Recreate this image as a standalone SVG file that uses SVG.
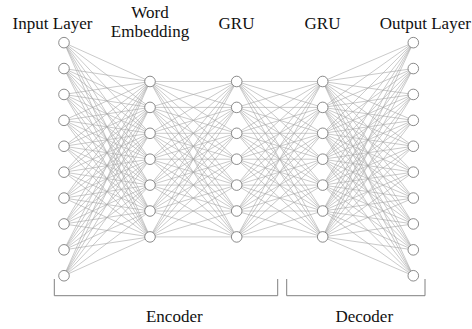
<svg xmlns="http://www.w3.org/2000/svg" width="472" height="329" viewBox="0 0 472 329">
<style>
text{font-family:'Liberation Serif','Times New Roman','DejaVu Serif',serif;font-size:17px;fill:#111;text-anchor:middle}
.e{fill:none;stroke:#a6a6a6;stroke-width:0.6}
.n circle{fill:#fff;stroke:#6e6e6e;stroke-width:0.8}
.br{fill:none;stroke:#808080;stroke-width:1}
</style>
<rect width="472" height="329" fill="#fff"/>
<g id="connectors">
<path class="e" d="M64 42.65L150 81.5M64 42.65L150 107.4M64 42.65L150 133.3M64 42.65L150 159.2M64 42.65L150 185.1M64 42.65L150 211M64 42.65L150 236.9
M64 68.55L150 81.5M64 68.55L150 107.4M64 68.55L150 133.3M64 68.55L150 159.2M64 68.55L150 185.1M64 68.55L150 211M64 68.55L150 236.9
M64 94.45L150 81.5M64 94.45L150 107.4M64 94.45L150 133.3M64 94.45L150 159.2M64 94.45L150 185.1M64 94.45L150 211M64 94.45L150 236.9
M64 120.35L150 81.5M64 120.35L150 107.4M64 120.35L150 133.3M64 120.35L150 159.2M64 120.35L150 185.1M64 120.35L150 211M64 120.35L150 236.9
M64 146.25L150 81.5M64 146.25L150 107.4M64 146.25L150 133.3M64 146.25L150 159.2M64 146.25L150 185.1M64 146.25L150 211M64 146.25L150 236.9
M64 172.15L150 81.5M64 172.15L150 107.4M64 172.15L150 133.3M64 172.15L150 159.2M64 172.15L150 185.1M64 172.15L150 211M64 172.15L150 236.9
M64 198.05L150 81.5M64 198.05L150 107.4M64 198.05L150 133.3M64 198.05L150 159.2M64 198.05L150 185.1M64 198.05L150 211M64 198.05L150 236.9
M64 223.95L150 81.5M64 223.95L150 107.4M64 223.95L150 133.3M64 223.95L150 159.2M64 223.95L150 185.1M64 223.95L150 211M64 223.95L150 236.9
M64 249.85L150 81.5M64 249.85L150 107.4M64 249.85L150 133.3M64 249.85L150 159.2M64 249.85L150 185.1M64 249.85L150 211M64 249.85L150 236.9
M64 275.75L150 81.5M64 275.75L150 107.4M64 275.75L150 133.3M64 275.75L150 159.2M64 275.75L150 185.1M64 275.75L150 211M64 275.75L150 236.9"/>
<path class="e" d="M150 81.5L236.7 81.5M150 81.5L236.7 107.4M150 81.5L236.7 133.3M150 81.5L236.7 159.2M150 81.5L236.7 185.1M150 81.5L236.7 211M150 81.5L236.7 236.9
M150 107.4L236.7 81.5M150 107.4L236.7 107.4M150 107.4L236.7 133.3M150 107.4L236.7 159.2M150 107.4L236.7 185.1M150 107.4L236.7 211M150 107.4L236.7 236.9
M150 133.3L236.7 81.5M150 133.3L236.7 107.4M150 133.3L236.7 133.3M150 133.3L236.7 159.2M150 133.3L236.7 185.1M150 133.3L236.7 211M150 133.3L236.7 236.9
M150 159.2L236.7 81.5M150 159.2L236.7 107.4M150 159.2L236.7 133.3M150 159.2L236.7 159.2M150 159.2L236.7 185.1M150 159.2L236.7 211M150 159.2L236.7 236.9
M150 185.1L236.7 81.5M150 185.1L236.7 107.4M150 185.1L236.7 133.3M150 185.1L236.7 159.2M150 185.1L236.7 185.1M150 185.1L236.7 211M150 185.1L236.7 236.9
M150 211L236.7 81.5M150 211L236.7 107.4M150 211L236.7 133.3M150 211L236.7 159.2M150 211L236.7 185.1M150 211L236.7 211M150 211L236.7 236.9
M150 236.9L236.7 81.5M150 236.9L236.7 107.4M150 236.9L236.7 133.3M150 236.9L236.7 159.2M150 236.9L236.7 185.1M150 236.9L236.7 211M150 236.9L236.7 236.9"/>
<path class="e" d="M236.7 81.5L322.7 81.5M236.7 81.5L322.7 107.4M236.7 81.5L322.7 133.3M236.7 81.5L322.7 159.2M236.7 81.5L322.7 185.1M236.7 81.5L322.7 211M236.7 81.5L322.7 236.9
M236.7 107.4L322.7 81.5M236.7 107.4L322.7 107.4M236.7 107.4L322.7 133.3M236.7 107.4L322.7 159.2M236.7 107.4L322.7 185.1M236.7 107.4L322.7 211M236.7 107.4L322.7 236.9
M236.7 133.3L322.7 81.5M236.7 133.3L322.7 107.4M236.7 133.3L322.7 133.3M236.7 133.3L322.7 159.2M236.7 133.3L322.7 185.1M236.7 133.3L322.7 211M236.7 133.3L322.7 236.9
M236.7 159.2L322.7 81.5M236.7 159.2L322.7 107.4M236.7 159.2L322.7 133.3M236.7 159.2L322.7 159.2M236.7 159.2L322.7 185.1M236.7 159.2L322.7 211M236.7 159.2L322.7 236.9
M236.7 185.1L322.7 81.5M236.7 185.1L322.7 107.4M236.7 185.1L322.7 133.3M236.7 185.1L322.7 159.2M236.7 185.1L322.7 185.1M236.7 185.1L322.7 211M236.7 185.1L322.7 236.9
M236.7 211L322.7 81.5M236.7 211L322.7 107.4M236.7 211L322.7 133.3M236.7 211L322.7 159.2M236.7 211L322.7 185.1M236.7 211L322.7 211M236.7 211L322.7 236.9
M236.7 236.9L322.7 81.5M236.7 236.9L322.7 107.4M236.7 236.9L322.7 133.3M236.7 236.9L322.7 159.2M236.7 236.9L322.7 185.1M236.7 236.9L322.7 211M236.7 236.9L322.7 236.9"/>
<path class="e" d="M322.7 81.5L413.3 42.65M322.7 81.5L413.3 68.55M322.7 81.5L413.3 94.45M322.7 81.5L413.3 120.35M322.7 81.5L413.3 146.25M322.7 81.5L413.3 172.15M322.7 81.5L413.3 198.05M322.7 81.5L413.3 223.95M322.7 81.5L413.3 249.85M322.7 81.5L413.3 275.75
M322.7 107.4L413.3 42.65M322.7 107.4L413.3 68.55M322.7 107.4L413.3 94.45M322.7 107.4L413.3 120.35M322.7 107.4L413.3 146.25M322.7 107.4L413.3 172.15M322.7 107.4L413.3 198.05M322.7 107.4L413.3 223.95M322.7 107.4L413.3 249.85M322.7 107.4L413.3 275.75
M322.7 133.3L413.3 42.65M322.7 133.3L413.3 68.55M322.7 133.3L413.3 94.45M322.7 133.3L413.3 120.35M322.7 133.3L413.3 146.25M322.7 133.3L413.3 172.15M322.7 133.3L413.3 198.05M322.7 133.3L413.3 223.95M322.7 133.3L413.3 249.85M322.7 133.3L413.3 275.75
M322.7 159.2L413.3 42.65M322.7 159.2L413.3 68.55M322.7 159.2L413.3 94.45M322.7 159.2L413.3 120.35M322.7 159.2L413.3 146.25M322.7 159.2L413.3 172.15M322.7 159.2L413.3 198.05M322.7 159.2L413.3 223.95M322.7 159.2L413.3 249.85M322.7 159.2L413.3 275.75
M322.7 185.1L413.3 42.65M322.7 185.1L413.3 68.55M322.7 185.1L413.3 94.45M322.7 185.1L413.3 120.35M322.7 185.1L413.3 146.25M322.7 185.1L413.3 172.15M322.7 185.1L413.3 198.05M322.7 185.1L413.3 223.95M322.7 185.1L413.3 249.85M322.7 185.1L413.3 275.75
M322.7 211L413.3 42.65M322.7 211L413.3 68.55M322.7 211L413.3 94.45M322.7 211L413.3 120.35M322.7 211L413.3 146.25M322.7 211L413.3 172.15M322.7 211L413.3 198.05M322.7 211L413.3 223.95M322.7 211L413.3 249.85M322.7 211L413.3 275.75
M322.7 236.9L413.3 42.65M322.7 236.9L413.3 68.55M322.7 236.9L413.3 94.45M322.7 236.9L413.3 120.35M322.7 236.9L413.3 146.25M322.7 236.9L413.3 172.15M322.7 236.9L413.3 198.05M322.7 236.9L413.3 223.95M322.7 236.9L413.3 249.85M322.7 236.9L413.3 275.75"/>
</g>
<g id="input-layer" class="n">
<text x="52.5" y="28.5" font-family="Liberation Serif, serif">Input Layer</text>
<g id="in1"><circle cx="64" cy="42.65" r="5.3"/></g>
<g id="in2"><circle cx="64" cy="68.55" r="5.3"/></g>
<g id="in3"><circle cx="64" cy="94.45" r="5.3"/></g>
<g id="in4"><circle cx="64" cy="120.35" r="5.3"/></g>
<g id="in5"><circle cx="64" cy="146.25" r="5.3"/></g>
<g id="in6"><circle cx="64" cy="172.15" r="5.3"/></g>
<g id="in7"><circle cx="64" cy="198.05" r="5.3"/></g>
<g id="in8"><circle cx="64" cy="223.95" r="5.3"/></g>
<g id="in9"><circle cx="64" cy="249.85" r="5.3"/></g>
<g id="in10"><circle cx="64" cy="275.75" r="5.3"/></g>
</g>
<g id="embedding-layer" class="n">
<text x="150" y="17.5">Word</text>
<text x="150" y="37">Embedding</text>
<g id="emb1"><circle cx="150" cy="81.5" r="5.3"/></g>
<g id="emb2"><circle cx="150" cy="107.4" r="5.3"/></g>
<g id="emb3"><circle cx="150" cy="133.3" r="5.3"/></g>
<g id="emb4"><circle cx="150" cy="159.2" r="5.3"/></g>
<g id="emb5"><circle cx="150" cy="185.1" r="5.3"/></g>
<g id="emb6"><circle cx="150" cy="211" r="5.3"/></g>
<g id="emb7"><circle cx="150" cy="236.9" r="5.3"/></g>
</g>
<g id="gru1-layer" class="n">
<text x="236.5" y="28.5">GRU</text>
<g id="gru1-1"><circle cx="236.7" cy="81.5" r="5.3"/></g>
<g id="gru1-2"><circle cx="236.7" cy="107.4" r="5.3"/></g>
<g id="gru1-3"><circle cx="236.7" cy="133.3" r="5.3"/></g>
<g id="gru1-4"><circle cx="236.7" cy="159.2" r="5.3"/></g>
<g id="gru1-5"><circle cx="236.7" cy="185.1" r="5.3"/></g>
<g id="gru1-6"><circle cx="236.7" cy="211" r="5.3"/></g>
<g id="gru1-7"><circle cx="236.7" cy="236.9" r="5.3"/></g>
</g>
<g id="gru2-layer" class="n">
<text x="322.5" y="28.5">GRU</text>
<g id="gru2-1"><circle cx="322.7" cy="81.5" r="5.3"/></g>
<g id="gru2-2"><circle cx="322.7" cy="107.4" r="5.3"/></g>
<g id="gru2-3"><circle cx="322.7" cy="133.3" r="5.3"/></g>
<g id="gru2-4"><circle cx="322.7" cy="159.2" r="5.3"/></g>
<g id="gru2-5"><circle cx="322.7" cy="185.1" r="5.3"/></g>
<g id="gru2-6"><circle cx="322.7" cy="211" r="5.3"/></g>
<g id="gru2-7"><circle cx="322.7" cy="236.9" r="5.3"/></g>
</g>
<g id="output-layer" class="n">
<text x="425.3" y="28.5">Output Layer</text>
<g id="out1"><circle cx="413.3" cy="42.65" r="5.3"/></g>
<g id="out2"><circle cx="413.3" cy="68.55" r="5.3"/></g>
<g id="out3"><circle cx="413.3" cy="94.45" r="5.3"/></g>
<g id="out4"><circle cx="413.3" cy="120.35" r="5.3"/></g>
<g id="out5"><circle cx="413.3" cy="146.25" r="5.3"/></g>
<g id="out6"><circle cx="413.3" cy="172.15" r="5.3"/></g>
<g id="out7"><circle cx="413.3" cy="198.05" r="5.3"/></g>
<g id="out8"><circle cx="413.3" cy="223.95" r="5.3"/></g>
<g id="out9"><circle cx="413.3" cy="249.85" r="5.3"/></g>
<g id="out10"><circle cx="413.3" cy="275.75" r="5.3"/></g>
</g>
<g id="encoder">
<polyline class="br" points="54.3,279 54.3,295.7 277.7,295.7 277.7,279"/>
<text x="174.3" y="322">Encoder</text>
</g>
<g id="decoder">
<polyline class="br" points="286.7,279 286.7,295.7 425,295.7 425,279"/>
<text x="364.3" y="322">Decoder</text>
</g>
</svg>
